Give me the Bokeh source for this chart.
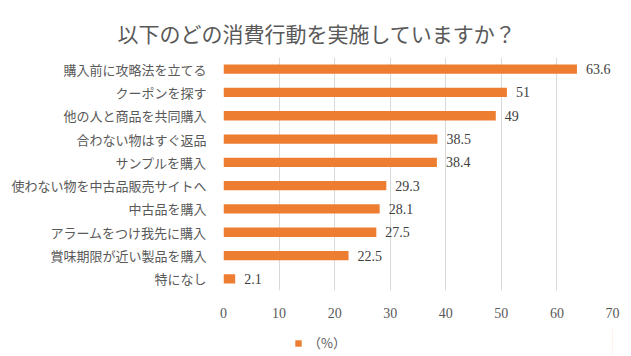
from bokeh.plotting import figure
from bokeh.layouts import column
from bokeh.models import ColumnDataSource, FactorRange, Legend, LegendItem, FixedTicker, Title
from bokeh.core.properties import value
from bokeh.embed import file_html
from bokeh.resources import INLINE

title_text = "以下のどの消費行動を実施していますか？"
categories = ["購入前に攻略法を立てる", "クーポンを探す", "他の人と商品を共同購入", "合わない物はすぐ返品",
              "サンプルを購入", "使わない物を中古品販売サイトへ", "中古品を購入", "アラームをつけ我先に購入",
              "賞味期限が近い製品を購入", "特になし"]
values = [63.6, 51, 49, 38.5, 38.4, 29.3, 28.1, 27.5, 22.5, 2.1]
x_ticks = [0, 10, 20, 30, 40, 50, 60, 70]
series_name = "（%）"

FONT = "Noto Sans CJK JP"
NUMFONT = "Liberation Serif"
ORANGE = "#ED7D31"
GREY = "#595959"

src = ColumnDataSource(dict(cat=categories, val=values, lab=[f"{v:g}" for v in values]))

p = figure(width=631, height=326, output_backend="svg", toolbar_location=None,
           y_range=FactorRange(factors=list(reversed(categories)), range_padding=0),
           x_range=(0, 70),
           min_border_left=223, min_border_right=19, min_border_top=57, min_border_bottom=36)
p.outline_line_color = None
p.background_fill_color = "white"
p.border_fill_color = "white"

# thin spacer between the frame and the title, to lift the title a little
p.add_layout(Title(text=" ", text_font_size="6px", standoff=0), "above")

p.title.text = title_text
p.title.text_font = FONT
p.title.text_font_size = "21px"
p.title.text_font_style = "normal"
p.title.text_color = GREY
p.title.align = "left"
p.title.offset = -106
p.title.vertical_align = "top"
p.title.standoff = 0

r = p.hbar(y="cat", right="val", left=0, height=0.4, source=src, color=ORANGE, line_color=None)
p.text(x="val", y="cat", text="lab", source=src, x_offset=9, text_baseline="middle",
       text_font=value(NUMFONT), text_font_size="14px", text_color="#404040")

p.xaxis.ticker = FixedTicker(ticks=x_ticks)
p.xaxis.axis_line_color = None
p.xaxis.major_tick_line_color = None
p.xaxis.minor_tick_line_color = None
p.xaxis.major_label_text_font = NUMFONT
p.xaxis.major_label_text_font_size = "14px"
p.xaxis.major_label_text_color = GREY
p.xaxis.major_label_standoff = 11

p.yaxis.axis_line_color = None
p.yaxis.major_tick_line_color = None
p.yaxis.minor_tick_line_color = None
p.yaxis.major_label_text_font = FONT
p.yaxis.major_label_text_font_size = "13px"
p.yaxis.major_label_text_color = GREY
p.yaxis.major_label_standoff = 11

p.xgrid.grid_line_color = "#D9D9D9"
p.ygrid.grid_line_color = None

# legend strip below the chart (its bars lie outside its visible range; only the legend shows)
leg = figure(width=631, height=30, output_backend="svg", toolbar_location=None,
             x_range=(-20, -10), y_range=FactorRange(factors=list(reversed(categories))),
             min_border_left=0, min_border_right=0, min_border_top=0, min_border_bottom=0)
leg.axis.visible = False
leg.grid.visible = False
leg.outline_line_color = None
lr = leg.hbar(y="cat", right="val", left=0, height=0.4, source=src, color=ORANGE, line_color=None)
legend = Legend(items=[LegendItem(label=series_name, renderers=[lr])], location=(71, 4),
                label_text_font=FONT, label_text_font_size="13px", label_text_color=GREY,
                glyph_width=8, glyph_height=8, border_line_color=None, background_fill_alpha=0,
                padding=0, margin=0, label_standoff=6)
leg.add_layout(legend, "center")

layout = column(p, leg, spacing=0)
open("out.html", "w").write(file_html(layout, INLINE))
